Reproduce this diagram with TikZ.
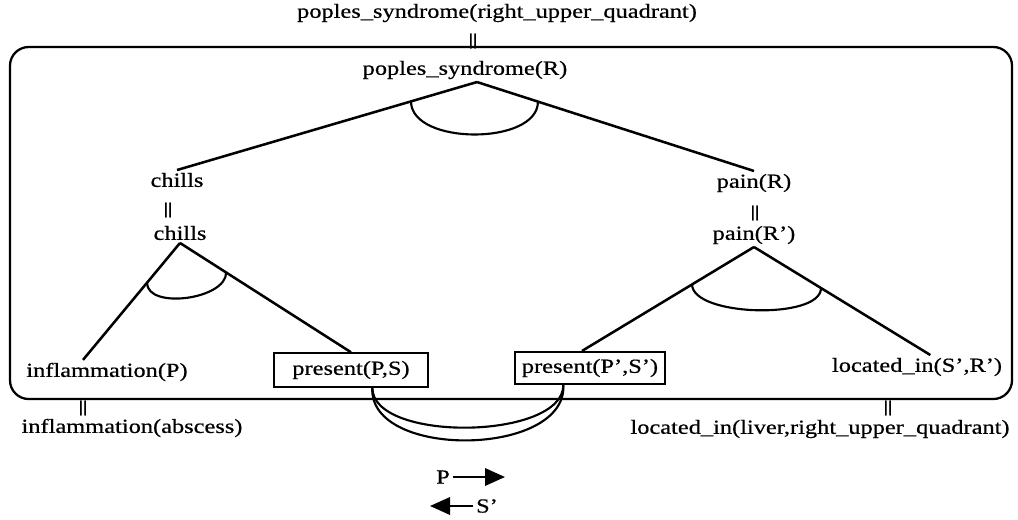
\documentclass[tikz,border=0pt]{standalone}
\usepackage{fontspec}
\setmainfont{Liberation Serif}[FakeStretch=1.22, FakeBold=0.6]
\usetikzlibrary{calc,arrows.meta}

\begin{document}
\begin{tikzpicture}[
    x=0.75pt, y=-0.75pt,
    lbl/.style={inner sep=2pt, font=\fontsize{15}{17}\selectfont},
    predbox/.style={lbl, rectangle, draw, line width=1.6pt, minimum width=116pt, minimum height=25pt},
    eqsign/.style={inner sep=0pt, font=\bfseries\fontsize{12}{12}\selectfont},
    link/.style={line width=1.9pt},
    andarc/.style={line width=1.6pt},
    bigarrow/.style={-{Triangle[length=15pt,width=13pt]}, line width=1.8pt}
]
\useasboundingbox (0,0) rectangle (1018,519);

% Outer frame
\draw[line width=1.7pt, rounded corners=14pt] (10,47) rectangle (1012,399);

% Top goal
\node[lbl] (goal) at (497,13) {poples\_syndrome(right\_upper\_quadrant)};
\node[eqsign] (eq0) at (473,41) {||};
\node[lbl] (pr) at (465,70) {poples\_syndrome(R)};

% Left branch
\node[lbl] (ch1) at (177,180) {chills};
\node[eqsign] (eq1) at (168,210) {||};
\node[lbl] (ch2) at (180,233) {chills};
\node[lbl] (inf) at (107,372) {inflammation(P)};
\node[predbox] (ps) at (351,370) {present(P,S)};
\node[eqsign] (eq3) at (83,408) {||};
\node[lbl] (infa) at (132,428) {inflammation(abscess)};

% Right branch
\node[lbl] (pn1) at (754,183) {pain(R)};
\node[eqsign] (eq2) at (755,213) {||};
\node[lbl] (pn2) at (754,235) {pain(R')};
\node[predbox, minimum width=112pt, minimum height=24pt] (ps2) at (590,368) {present(P',S')};
\node[lbl] (loc) at (917,367) {located\_in(S',R')};
\node[eqsign] (eq4) at (888,408) {||};
\node[lbl] (loca) at (820,429) {located\_in(liver,right\_upper\_quadrant)};

% Tree edges
\coordinate (prs) at ([xshift=9pt]pr.south);
\coordinate (infn) at ([xshift=-18pt]inf.north);
\coordinate (ps2n) at ([xshift=-6pt]ps2.north);
\coordinate (locn) at ([xshift=10pt]loc.north);
\draw[link] (prs) -- (ch1.north);
\draw[link] (prs) -- (pn1.north);
\draw[link] (ch2.south) -- (infn);
\draw[link] (ch2.south) -- (ps.north);
\draw[link] (pn2.south) -- (ps2n);
\draw[link] (pn2.south) -- (locn);

% And arcs
\draw[andarc] ($(prs)!0.22!(ch1.north)$) .. controls +(0,44) and +(0,44) .. ($(prs)!0.22!(pn1.north)$);
\draw[andarc] ($(ch2.south)!0.34!(infn)$) .. controls +(0,27) and +(0,27) .. ($(ch2.south)!0.27!(ps.north)$);
\draw[andarc] ($(pn2.south)!0.36!(ps2n)$) .. controls +(0,32) and +(0,32) .. ($(pn2.south)!0.38!(locn)$);

% Binding link between the two present nodes
\coordinate (psb) at ([xshift=16pt]ps.south);
\coordinate (ps2b) at ([xshift=-20pt]ps2.south);
\draw[andarc] (psb) .. controls +(0,55) and +(0,55) .. (ps2b);
\draw[andarc] (psb) .. controls +(-4,72) and +(4,72) .. (ps2b);

% Substitution arrows
\node[lbl] (pl) at (443,477) {P};
\coordinate (pe) at (505,477);
\draw[bigarrow] (pl.east) -- (pe);
\node[lbl] (sl) at (487,506) {S'};
\coordinate (se) at (430,506);
\draw[bigarrow] (sl.west) -- (se);

\end{tikzpicture}
\end{document}
